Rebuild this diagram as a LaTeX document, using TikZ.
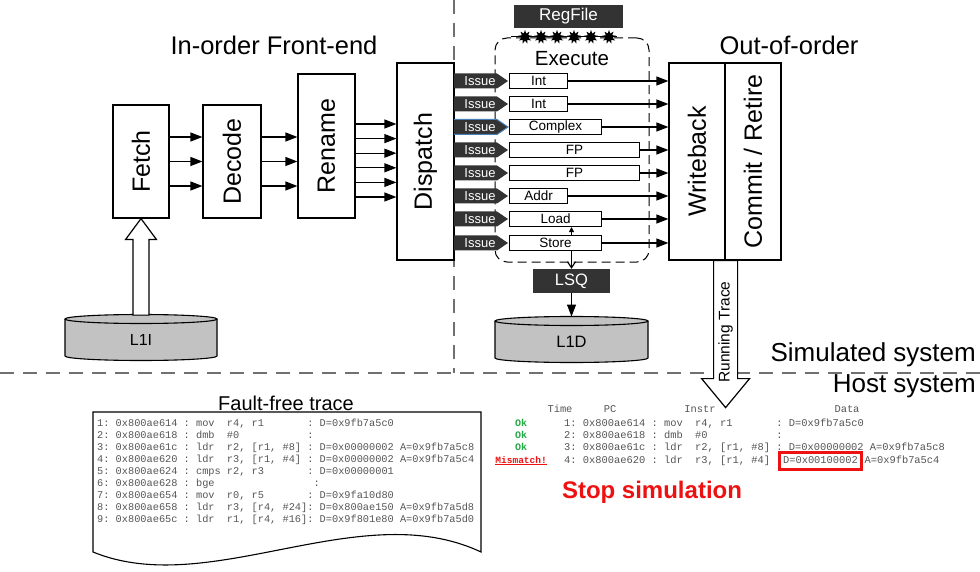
\documentclass[tikz,border=0pt]{standalone}
\usepackage{fontspec}
\usepackage{graphicx}
\setmainfont{Liberation Sans}
\newfontfamily\monofam{Liberation Mono}
\usetikzlibrary{arrows.meta,shapes.geometric}
\definecolor{darkfill}{HTML}{333333}
\definecolor{cylgray}{HTML}{C2C2C2}
\definecolor{okgreen}{HTML}{22AA44}
\definecolor{errred}{HTML}{EE1111}
\definecolor{tracegray}{HTML}{555555}
\definecolor{issueblue}{HTML}{4A7FB5}
\definecolor{dashgray}{HTML}{707070}
\newcommand\fsz[1]{\fontsize{#1}{#1}\selectfont}
\begin{document}
\begin{tikzpicture}[x=1pt,y=-1pt,
  stage/.style={draw, line width=1.2pt, fill=white, inner sep=0pt, font=\fsz{25}},
  arr/.style={-{Triangle[length=12pt,width=9pt]}, line width=1.2pt},
  darkbox/.style={fill=darkfill, text=white, inner sep=0pt},
  unit/.style={draw, line width=1.1pt, fill=white, minimum height=15pt, inner sep=0pt, font=\fsz{13.5}},
  sysdash/.style={draw=dashgray, line width=2.2pt, dash pattern=on 14pt off 9pt},
  trace/.style={font=\monofam\fsz{10.3}, text=tracegray, inner sep=0pt, anchor=base west},
  htrace/.style={font=\monofam\fsz{10.4}, text=tracegray, inner sep=0pt, anchor=base west},
  lbl/.style={inner sep=0pt},
  hollow/.style={draw, line width=1.2pt, fill=white},
  starmark/.style={star, star points=9, star point ratio=1.9, fill=black, minimum size=14pt, inner sep=0pt}
]
\fill[white] (0,0) rectangle (980,572);
\useasboundingbox (0,0) rectangle (980,572);

% system boundaries
\draw[sysdash] (454,0) -- (454,373);
\draw[sysdash] (0,373) -- (980,373);

% headings
\node[lbl, font=\fsz{25.5}] (hfront) at (274,45) {In-order Front-end};
\node[lbl, font=\fsz{25.5}] (hooo) at (789,45) {Out-of-order};
\node[lbl, font=\fsz{26}, anchor=east] (hsim) at (976,355) {Simulated system};
\node[lbl, font=\fsz{26}, anchor=east] (hhost) at (976,386) {Host system};

% front-end stages
\node[stage, minimum width=56, minimum height=113] (fetch) at (141,161.5) {\rotatebox{90}{Fetch}};
\node[stage, minimum width=58, minimum height=113] (decode) at (232,161.5) {\rotatebox{90}{Decode}};
\node[stage, minimum width=57, minimum height=144] (rename) at (326.5,146) {\rotatebox{90}{Rename}};
\node[stage, minimum width=57, minimum height=197] (dispatch) at (425.5,161.5) {\rotatebox{90}{Dispatch}};

\foreach \y in {137,161.5,186} {
  \coordinate (t) at (0,\y);
  \draw[arr] (fetch.east |- t) -- (decode.west |- t);
  \draw[arr] (decode.east |- t) -- (rename.west |- t);
}
\foreach \y in {124,138.6,153.2,167.8,182.4,197} {
  \coordinate (t) at (0,\y);
  \draw[arr] (rename.east |- t) -- (dispatch.west |- t);
}

% back-end stages
\node[stage, minimum width=56, minimum height=197] (wb) at (697,161.5) {\rotatebox{90}{Writeback}};
\node[stage, minimum width=56, minimum height=197] (commit) at (753,161.5) {\rotatebox{90}{Commit / Retire}};

% execute cluster
\node[draw, line width=1pt, dash pattern=on 9pt off 5pt, rounded corners=12pt, minimum width=154, minimum height=224, inner sep=0pt] (exe) at (572,150) {};
\node[lbl, font=\fsz{20.5}] (exetxt) at (572,59) {Execute};
\node[darkbox, minimum width=109, minimum height=23, font=\fsz{17}] (regfile) at (568.5,16.5) {RegFile};
\draw[line width=1pt] (511,37) -- (617,37);
\foreach \x [count=\k] in {525,541,557,574,591,609} {
  \node[starmark] (st\k) at (\x,37) {};
}

\foreach \i/\y/\r/\t in {1/81/567/Int, 2/104/567/Int, 3/127/601/Complex, 4/150/639/FP, 5/173/639/FP, 6/196/567/Addr, 7/219/601/Load, 8/243/601/Store} {
  \fill[darkfill] (454,\y-7.5) -- (497,\y-7.5) -- (508,\y) -- (497,\y+7.5) -- (454,\y+7.5) -- cycle;
  \node[lbl, text=white, font=\fsz{13}] (iss\i) at (480,\y) {Issue};
  \node[unit, minimum width={\r-509}, anchor=west] (u\i) at (509,\y) {\t};
  \draw[arr] (u\i.east) -- (u\i.east -| wb.west);
}
\draw[issueblue, line width=1pt] (454,119.5) -- (497,119.5) -- (508,127) -- (497,134.5) -- (454,134.5);

% LSQ and caches
\node[darkbox, minimum width=77, minimum height=24, font=\fsz{16.5}] (lsq) at (571.5,281) {LSQ};
\draw[-{Triangle[length=5pt,width=5pt]}, line width=1pt] (u8.north -| lsq.north) -- (u7.south -| lsq.north);
\draw[-{Straight Barb[length=6pt,width=8pt]}, line width=1.2pt] (u8.south -| lsq.north) -- (lsq.north);

\draw[line width=1.1pt, fill=cylgray] (65,319) -- (65,356) arc[start angle=180, end angle=0, x radius=76, y radius=4.5] -- (217,319);
\draw[line width=1.1pt, fill=cylgray] (141,319) ellipse[x radius=76, y radius=4.5];
\node[lbl, font=\fsz{16}] (l1i) at (141,340) {L1I};
\coordinate (l1itop) at (141,314.5);

\draw[line width=1.1pt, fill=cylgray] (495,321) -- (495,358) arc[start angle=180, end angle=0, x radius=76.5, y radius=4.5] -- (648,321);
\draw[line width=1.1pt, fill=cylgray] (571.5,321) ellipse[x radius=76.5, y radius=4.5];
\node[lbl, font=\fsz{16.5}] (l1d) at (571.5,342) {L1D};
\coordinate (l1dtop) at (571.5,316.5);

\draw[arr] (lsq.south) -- (l1dtop);

% hollow arrows
\draw[hollow] (fetch.south) -- ++(15.5,21) -- ++(-7.5,0) -- ++(0,75.5) -- ++(-16,0) -- ++(0,-75.5) -- ++(-7.5,0) -- cycle;
\draw[hollow] (wb.south east) -- ++(12,0) -- ++(0,118) -- ++(12,0) -- ++(-24,29) -- ++(-24,-29) -- ++(12,0) -- ++(0,-118) -- cycle;
\node[lbl, font=\fsz{15.5}] (rtrace) at (725.5,332) {\rotatebox{90}{Running Trace}};

% fault-free trace document
\draw[line width=1.1pt, fill=white] (93,412) -- (481,412) -- (481,552) .. controls (360,495) and (210,600) .. (93,552) -- cycle;
\node[lbl, font=\fsz{20}] (fftitle) at (286,403) {Fault-free trace};
\node[trace] (ff1) at (97,426.5) {1:~0x800ae614~:~mov~~r4,~r1~~~~~~~:~D=0x9fb7a5c0};
\node[trace] (ff2) at (97,438.5) {2:~0x800ae618~:~dmb~~\#0~~~~~~~~~~~:};
\node[trace] (ff3) at (97,450.5) {3:~0x800ae61c~:~ldr~~r2,~[r1,~\#8]~:~D=0x00000002~A=0x9fb7a5c8};
\node[trace] (ff4) at (97,462.5) {4:~0x800ae620~:~ldr~~r3,~[r1,~\#4]~:~D=0x00000002~A=0x9fb7a5c4};
\node[trace] (ff5) at (97,474.5) {5:~0x800ae624~:~cmps~r2,~r3~~~~~~~:~D=0x00000001};
\node[trace] (ff6) at (97,486.5) {6:~0x800ae628~:~bge~~~~~~~~~~~~~~~~:};
\node[trace] (ff7) at (97,498.5) {7:~0x800ae654~:~mov~~r0,~r5~~~~~~~:~D=0x9fa10d80};
\node[trace] (ff8) at (97,510.5) {8:~0x800ae658~:~ldr~~r3,~[r4,~\#24]:~D=0x800ae150~A=0x9fb7a5d8};
\node[trace] (ff9) at (97,522.5) {9:~0x800ae65c~:~ldr~~r1,~[r4,~\#16]:~D=0x9f801e80~A=0x9fb7a5d0};

% host-side running trace
\node[htrace, anchor=base] (hdtime) at (560,412.5) {Time};
\node[htrace, anchor=base] (hdpc) at (610,412.5) {PC};
\node[htrace, anchor=base] (hdinstr) at (700,412.5) {Instr};
\node[htrace, anchor=base] (hddata) at (847,412.5) {Data};

\node[htrace, anchor=base, text=okgreen, font=\monofam\bfseries\fsz{10}] (ok1) at (521,426.5) {Ok};
\node[htrace, anchor=base, text=okgreen, font=\monofam\bfseries\fsz{10}] (ok2) at (521,438.7) {Ok};
\node[htrace, anchor=base, text=okgreen, font=\monofam\bfseries\fsz{10}] (ok3) at (521,450.9) {Ok};
\node[htrace, anchor=base east, text=errred, font=\monofam\bfseries\fsz{9.5}] (mism) at (547,463.1) {\underline{Mismatch!}};

\node[htrace] (hr1) at (564,426.5) {1:~0x800ae614~:~mov~~r4,~r1~~~~~~~:~D=0x9fb7a5c0};
\node[htrace] (hr2) at (564,438.7) {2:~0x800ae618~:~dmb~~\#0~~~~~~~~~~~:};
\node[htrace] (hr3) at (564,450.9) {3:~0x800ae61c~:~ldr~~r2,~[r1,~\#8]~:~D=0x00000002~A=0x9fb7a5c8};
\node[htrace] (hr4) at (564,463.1) {4:~0x800ae620~:~ldr~~r3,~[r1,~\#4]~:~};
\node[htrace, anchor=base west] (hr4d) at (hr4.base east) {D=0x00100002};
\node[htrace, anchor=base west] (hr4e) at (hr4d.base east) {~A=0x9fb7a5c4};
\draw[errred, line width=3pt] ([xshift=-3.5pt,yshift=-6pt]hr4d.south west) rectangle ([xshift=3.5pt,yshift=3.5pt]hr4d.north east);

\node[lbl, text=errred, font=\bfseries\fsz{24}] (stopsim) at (652,492) {Stop simulation};
\end{tikzpicture}
\end{document}
